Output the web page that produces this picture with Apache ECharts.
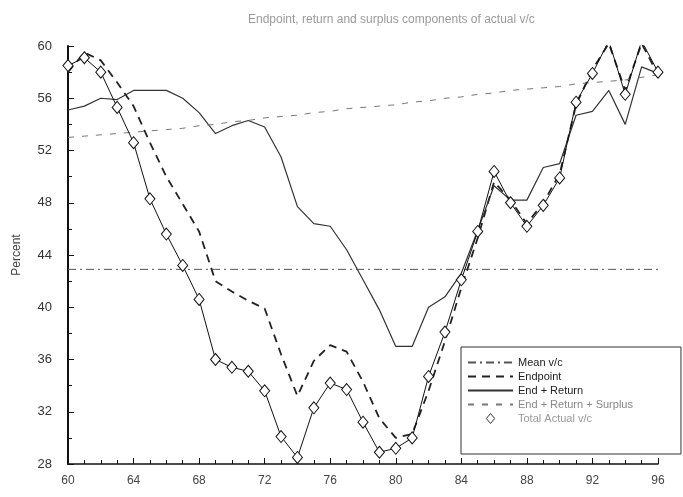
<!DOCTYPE html>
<html>
<head>
<meta charset="utf-8">
<script src="https://cdn.jsdelivr.net/npm/echarts@6/dist/echarts.min.js"></script>
<style>html,body{margin:0;padding:0;background:#fff}#c{width:683px;height:497px}</style>
</head>
<body>
<div id="c"></div>
<script>
const years = [60,61,62,63,64,65,66,67,68,69,70,71,72,73,74,75,76,77,78,79,80,81,82,83,84,85,86,87,88,89,90,91,92,93,94,95,96];
const meanVC = [42.9,42.9,42.9,42.9,42.9,42.9,42.9,42.9,42.9,42.9,42.9,42.9,42.9,42.9,42.9,42.9,42.9,42.9,42.9,42.9,42.9,42.9,42.9,42.9,42.9,42.9,42.9,42.9,42.9,42.9,42.9,42.9,42.9,42.9,42.9,42.9,42.9];
const endpoint = [58.0,59.5,58.9,57.2,55.4,52.6,50.0,47.9,45.8,42.0,41.2,40.5,39.9,36.4,33.2,35.9,37.1,36.6,34.3,31.5,30.0,30.3,33.6,37.4,41.5,45.3,49.6,48.2,46.4,48.0,50.2,55.5,58.2,60.2,56.6,60.2,57.8];
const endReturn = [55.1,55.4,56.0,55.9,56.6,56.6,56.6,56.0,54.9,53.3,53.9,54.3,53.8,51.5,47.7,46.4,46.2,44.4,42.1,39.8,37.0,37.0,40.0,40.8,42.6,45.9,49.3,48.2,48.2,50.7,51.0,54.7,55.0,56.6,54.0,58.4,57.9];
const endReturnSurplus = [53.0,53.1,53.2,53.3,53.4,53.5,53.6,53.7,53.9,54.0,54.2,54.3,54.5,54.6,54.7,54.9,55.0,55.2,55.3,55.4,55.5,55.7,55.8,56.0,56.1,56.3,56.4,56.6,56.7,56.8,56.9,57.1,57.2,57.3,57.4,57.6,57.8];
const totalActual = [58.5,59.1,58.0,55.3,52.6,48.3,45.6,43.2,40.6,36.0,35.4,35.1,33.6,30.1,28.5,32.3,34.2,33.7,31.2,28.9,29.2,30.0,34.7,38.1,42.1,45.8,50.4,48.0,46.2,47.8,49.9,55.7,57.9,60.4,56.3,60.4,58.0];
const xTicks = [60,64,68,72,76,80,84,88,92,96];
const yTicks = [28,32,36,40,44,48,52,56,60];
const names = ['Mean v/c','Endpoint','End + Return','End + Return + Surplus','Total Actual v/c'];

const pairs = arr => years.map((y,i)=>[y,arr[i]]);
const chart = echarts.init(document.getElementById('c'));
const FONT = 'Liberation Sans, Arial, sans-serif';
const noSym = {opacity:0};
chart.setOption({
  animation:false,
  backgroundColor:'#fff',
  title:{text:'Endpoint, return and surplus components of actual v/c',left:243,top:9,
    textStyle:{fontSize:12,fontWeight:'normal',color:'#9a9a9a',fontFamily:FONT}},
  grid:{left:68,right:25,top:46,bottom:33},
  xAxis:{type:'value',min:xTicks[0],max:xTicks[xTicks.length-1],interval:4,
    axisLine:{lineStyle:{color:'#111',width:1.5}},
    axisTick:{inside:true,length:6,lineStyle:{color:'#111'}},
    minorTick:{show:true,splitNumber:4,length:4,lineStyle:{color:'#111'}},
    splitLine:{show:false},
    axisLabel:{fontSize:12,color:'#444',margin:11,fontFamily:FONT}},
  yAxis:{type:'value',min:yTicks[0],max:yTicks[yTicks.length-1],interval:4,
    name:'Percent',nameLocation:'middle',nameGap:45,
    nameTextStyle:{fontSize:12,color:'#444',fontFamily:FONT},
    axisLine:{show:true,lineStyle:{color:'#111',width:2}},
    axisTick:{show:true,inside:true,length:6,lineStyle:{color:'#111'}},
    minorTick:{show:true,splitNumber:2,length:4,lineStyle:{color:'#111'}},
    splitLine:{show:false},
    axisLabel:{fontSize:13,color:'#333',margin:16,fontFamily:FONT}},
  legend:{orient:'vertical',left:461,top:347,
    backgroundColor:'#fff',borderColor:'#333',borderWidth:1,
    padding:[10,48,30,6],itemGap:3,itemWidth:45,itemHeight:10,
    data:[
      {name:names[0],itemStyle:noSym},
      {name:names[1],itemStyle:noSym},
      {name:names[2],itemStyle:noSym},
      {name:names[3],itemStyle:noSym,textStyle:{color:'#888'}},
      {name:names[4],icon:'path://M5,0L10,6L5,12L0,6Z',lineStyle:{opacity:0},
       itemStyle:{color:'#fff',borderColor:'#333',borderWidth:1},textStyle:{color:'#999'}}],
    textStyle:{fontSize:11,color:'#222',fontFamily:FONT},
  },
  series:[
    {name:names[0],type:'line',data:pairs(meanVC),symbol:'none',color:'#555',
     lineStyle:{color:'#555',width:1,type:[8,4,2,4]}},
    {name:names[1],type:'line',data:pairs(endpoint),symbol:'none',color:'#222',
     lineStyle:{color:'#222',width:1.8,type:[8,6]}},
    {name:names[2],type:'line',data:pairs(endReturn),symbol:'none',color:'#333',
     lineStyle:{color:'#333',width:1.2,type:'solid'}},
    {name:names[3],type:'line',data:pairs(endReturnSurplus),symbol:'none',color:'#777',
     lineStyle:{color:'#777',width:1,type:[6,8]}},
    {name:names[4],type:'line',data:pairs(totalActual),symbol:'diamond',symbolSize:[10,12],
     showSymbol:true,clip:true,color:'#111',
     itemStyle:{color:'#fff',borderColor:'#111',borderWidth:1},
     lineStyle:{color:'#111',width:1}}
  ]
});
</script>
</body>
</html>
